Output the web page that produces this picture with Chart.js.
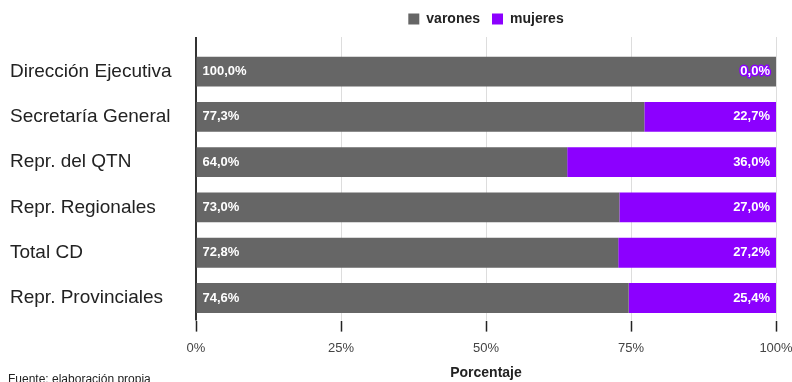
<!DOCTYPE html>
<html>
<head>
<meta charset="utf-8">
<script src="https://cdn.jsdelivr.net/npm/chart.js@4/dist/chart.umd.min.js"></script>
<style>
  html, body { margin: 0; padding: 0; background: #fff; }
  #wrap { position: relative; width: 792px; height: 382px; overflow: hidden; }
  #note { position: absolute; left: 8px; top: 372px; font: 12px "Liberation Sans", Arial, sans-serif; color: #222; }
</style>
</head>
<body>
<div id="wrap">
  <canvas id="c" width="792" height="382"></canvas>
  <div id="note">Fuente: elaboración propia</div>
</div>
<script>
const categories = ['Dirección Ejecutiva', 'Secretaría General', 'Repr. del QTN', 'Repr. Regionales', 'Total CD', 'Repr. Provinciales'];
const varones = [100.0, 77.3, 64.0, 73.0, 72.8, 74.6];
const mujeres = [0.0, 22.7, 36.0, 27.0, 27.2, 25.4];
const xTicks = [0, 25, 50, 75, 100];

const GREY = '#666666';
const PURPLE = '#8c00ff';
const FONT = '"Liberation Sans", Arial, sans-serif';

const fmt = v => v.toFixed(1).replace('.', ',') + '%';

// Percentage labels inside each bar: men at the left end, women at the right end.
const barLabels = {
  id: 'barLabels',
  afterDatasetsDraw(chart) {
    const ctx = chart.ctx;
    const right = chart.scales.x.getPixelForValue(100);
    ctx.save();
    ctx.font = 'bold 13px ' + FONT;
    ctx.textBaseline = 'middle';
    chart.getDatasetMeta(0).data.forEach((bar, i) => {
      ctx.textAlign = 'left';
      ctx.fillStyle = '#ffffff';
      ctx.fillText(fmt(varones[i]), bar.base + 6, bar.y);
    });
    chart.getDatasetMeta(1).data.forEach((bar, i) => {
      ctx.textAlign = 'right';
      const t = fmt(mujeres[i]);
      if (mujeres[i] === 0) {
        ctx.lineWidth = 3;
        ctx.lineJoin = 'round';
        ctx.strokeStyle = PURPLE;
        ctx.strokeText(t, right - 6, bar.y);
      }
      ctx.fillStyle = '#ffffff';
      ctx.fillText(t, right - 6, bar.y);
    });
    ctx.restore();
  }
};

// Vertical grid lines, running a little above the first bar row.
const gridLines = {
  id: 'gridLines',
  beforeDatasetsDraw(chart) {
    const ctx = chart.ctx;
    const a = chart.chartArea;
    const x = chart.scales.x;
    ctx.save();
    xTicks.forEach(v => {
      if (v === 0) return;
      const px = Math.round(x.getPixelForValue(v)) + 0.5;
      ctx.beginPath();
      ctx.strokeStyle = '#dddddd';
      ctx.lineWidth = 1;
      ctx.moveTo(px, a.top - 12);
      ctx.lineTo(px, a.bottom);
      ctx.stroke();
    });
    const x0 = Math.round(x.getPixelForValue(0));
    ctx.beginPath();
    ctx.strokeStyle = '#333333';
    ctx.lineWidth = 2;
    ctx.moveTo(x0, a.top - 12);
    ctx.lineTo(x0, a.bottom);
    ctx.stroke();
    ctx.restore();
  }
};

// Legend sits a bit further from the plot and is centred over the plot area.
const legendPlace = {
  id: 'legendPlace',
  beforeInit(chart) {
    const fit = chart.legend.fit;
    chart.legend.fit = function () {
      fit.call(this);
      this.height += 13;
    };
  },
  afterLayout(chart) {
    chart.legend.left = chart.chartArea.left;
    chart.legend.right = chart.chartArea.right;
  }
};

new Chart(document.getElementById('c'), {
  type: 'bar',
  data: {
    labels: categories,
    datasets: [
      { label: 'varones', data: varones, backgroundColor: GREY, categoryPercentage: 0.66, barPercentage: 1 },
      { label: 'mujeres', data: mujeres, backgroundColor: PURPLE, categoryPercentage: 0.66, barPercentage: 1 }
    ]
  },
  options: {
    indexAxis: 'y',
    responsive: false,
    animation: false,
    layout: { padding: { top: 0, right: 0, bottom: 0, left: 10 } },
    plugins: {
      tooltip: { enabled: false },
      legend: {
        position: 'top',
        labels: {
          font: { family: FONT, size: 14, weight: 'bold' },
          color: '#222',
          boxWidth: 11, boxHeight: 11,
          padding: 12
        }
      }
    },
    scales: {
      x: {
        stacked: true,
        min: 0, max: 100,
        afterBuildTicks(s) { s.ticks = xTicks.map(v => ({ value: v })); },
        afterFit(s) { s.paddingRight = 16; },
        ticks: {
          callback: v => v + '%',
          font: { family: FONT, size: 13 },
          color: '#444',
          padding: 9
        },
        grid: { drawOnChartArea: false, tickColor: '#222', tickLength: 11, tickWidth: 1.5 },
        border: { display: false },
        title: { display: true, text: 'Porcentaje', font: { family: FONT, size: 14, weight: 'bold' }, color: '#222', padding: { top: 0, bottom: 0 } }
      },
      y: {
        stacked: true,
        afterFit(s) { s.width = 186; },
        ticks: {
          font: { family: FONT, size: 19 },
          color: '#222',
          crossAlign: 'far',
          padding: 10
        },
        grid: { display: false },
        border: { display: false }
      }
    }
  },
  plugins: [barLabels, gridLines, legendPlace]
});
</script>
</body>
</html>
